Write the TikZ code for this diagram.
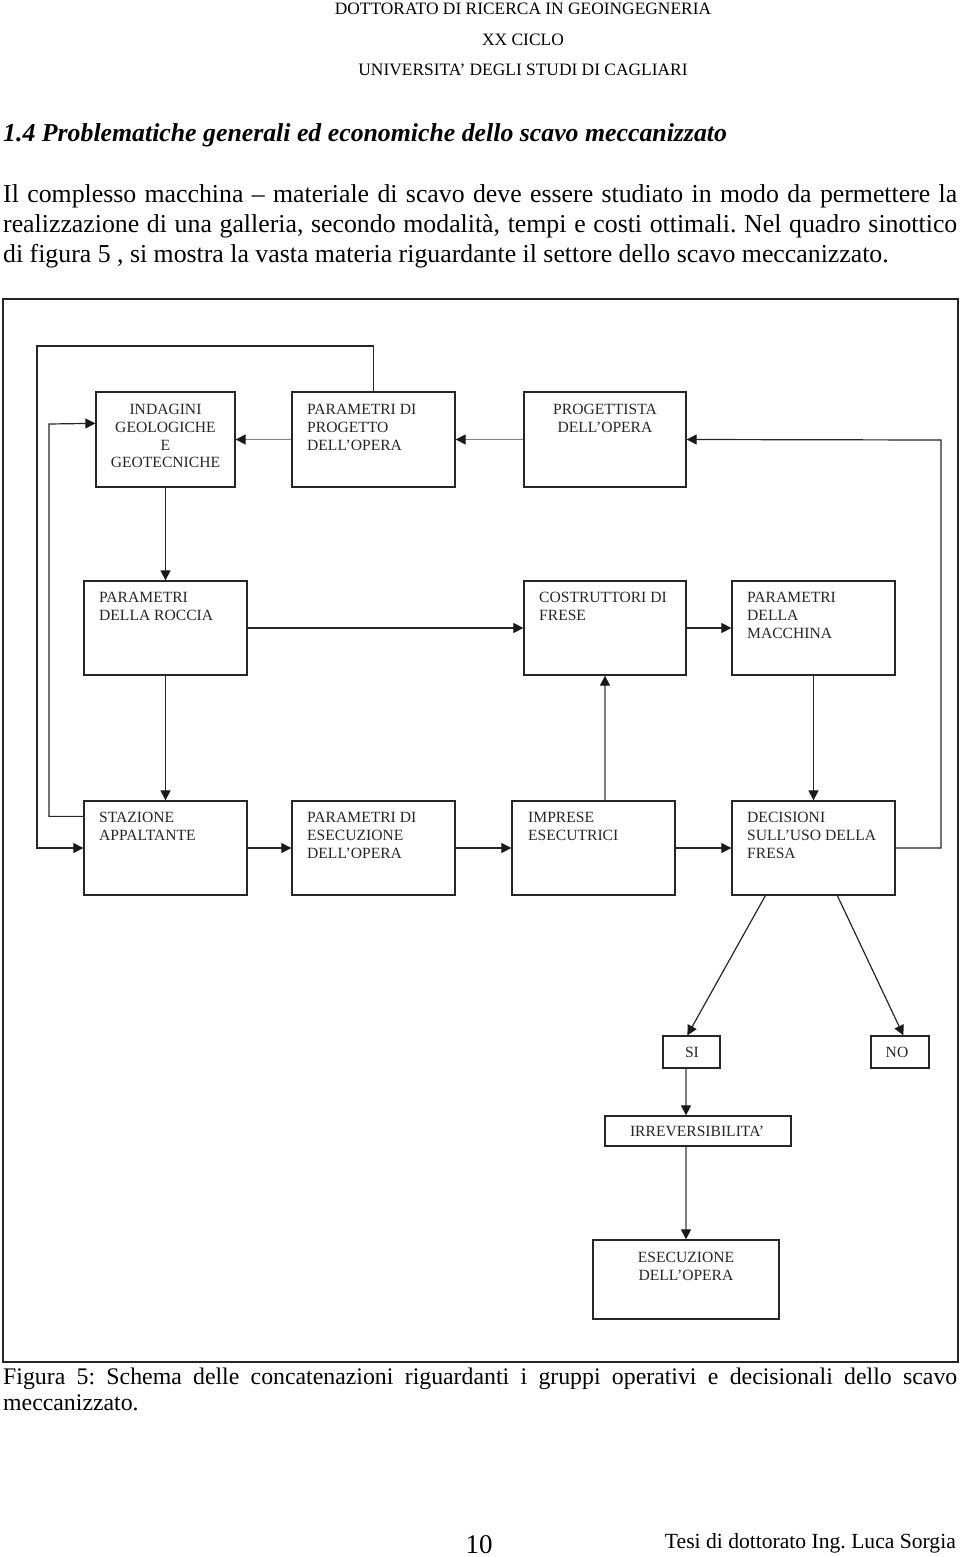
\documentclass[tikz,border=0pt]{standalone}
\usepackage{fontspec}
\setmainfont{Liberation Serif}
\usetikzlibrary{arrows.meta,calc}
\tikzset{
  box/.style={draw=black!85,line width=1.3pt,inner sep=0pt},
  lbl/.style={inner sep=0pt,align=left,font=\fontsize{15.6}{17.8}\selectfont,text=black!85},
  clbl/.style={lbl,align=center},
  conn/.style={draw=black!85,line width=1.2pt,-{Triangle[length=10pt,width=10pt,color=black!90]}},
  gconn/.style={conn,draw=black!50},
  body/.style={inner sep=0pt,font=\fontsize{25.8}{30}\selectfont},
  hdr/.style={inner sep=0pt,font=\fontsize{17.4}{20}\selectfont},
}
\newcommand\mybox[5]{\node[box,minimum width={#4-#2},minimum height={#5-#3}] (#1) at ({(#2+#4)/2},{(#3+#5)/2}) {};}
\begin{document}
\frenchspacing
\begin{tikzpicture}[x=1pt,y=-1pt]
\useasboundingbox (0,0) rectangle (960,1557);
% header
\node[hdr,anchor=base] (h1) at (523,15) {DOTTORATO DI RICERCA IN GEOINGEGNERIA};
\node[hdr,anchor=base] (h2) at (523,46) {XX CICLO};
\node[hdr,anchor=base] (h3) at (523,76) {UNIVERSITA’ DEGLI STUDI DI CAGLIARI};
\node[body,anchor=base west,font=\fontsize{25.8}{30}\selectfont\bfseries\itshape] (title) at (3,142) {1.4 Problematiche generali ed economiche dello scavo meccanizzato};
\node[body,anchor=base west] (p1) at (3,202) {\makebox[954pt][s]{Il complesso macchina – materiale di scavo deve essere studiato in modo da permettere la}};
\node[body,anchor=base west] (p2) at (3,232.5) {\makebox[954pt][s]{realizzazione di una galleria, secondo modalità, tempi e costi ottimali. Nel quadro sinottico}};
\node[body,anchor=base west] (p3) at (3,262) {di figura 5 , si mostra la vasta materia riguardante il settore dello scavo meccanizzato.};
% frame
\node[draw=black!85,line width=1.4pt,inner sep=0pt,minimum width=955,minimum height=1063] (frame) at (480.5,830.5) {};
% boxes
\mybox{ind}{96}{392}{235}{487}
\mybox{pp}{292}{392}{455}{487}
\mybox{prog}{524}{392}{686}{487}
\mybox{roc}{84}{581}{247}{675}
\mybox{cos}{524}{581}{686}{675}
\mybox{mac}{732}{581}{895}{675}
\mybox{sta}{84}{801}{247}{895}
\mybox{pe}{292}{801}{455}{895}
\mybox{imp}{512}{801}{675}{895}
\mybox{dec}{732}{801}{895}{895}
\mybox{si}{663}{1036}{720}{1068}
\mybox{no}{871}{1036}{929}{1068}
\mybox{irr}{605}{1116}{791}{1146}
\mybox{esec}{593}{1240}{779}{1319}
% labels
\node[clbl,anchor=north] (tind) at (165.5,404) {INDAGINI\\GEOLOGICHE\\E\\GEOTECNICHE};
\node[lbl,anchor=north west] (tpp) at (307,404) {PARAMETRI DI\\PROGETTO\\DELL’OPERA};
\node[clbl,anchor=north] (tprog) at (605,404) {PROGETTISTA\\DELL’OPERA};
\node[lbl,anchor=north west] (troc) at (99,592) {PARAMETRI\\DELLA ROCCIA};
\node[lbl,anchor=north west] (tcos) at (539,592) {COSTRUTTORI DI\\FRESE};
\node[lbl,anchor=north west] (tmac) at (747,592) {PARAMETRI\\DELLA\\MACCHINA};
\node[lbl,anchor=north west] (tsta) at (99,812) {STAZIONE\\APPALTANTE};
\node[lbl,anchor=north west] (tpe) at (307,812) {PARAMETRI DI\\ESECUZIONE\\DELL’OPERA};
\node[lbl,anchor=north west] (timp) at (528,812) {IMPRESE\\ESECUTRICI};
\node[lbl,anchor=north west] (tdec) at (747,812) {DECISIONI\\SULL’USO DELLA\\FRESA};
\node[clbl] (tsi) at (692,1052) {SI};
\node[clbl] (tno) at (897,1052) {NO};
\node[clbl] (tirr) at (697,1131) {IRREVERSIBILITA’};
\node[clbl,anchor=north] (tesec) at (686,1252) {ESECUZIONE\\DELL’OPERA};
% connectors
\coordinate (c1) at (37,346);
\coordinate (c2) at (49,424);
\coordinate (c3) at (941,440);
\draw[gconn] (pp.west) -- (ind.east);
\draw[gconn] (prog.west) -- (pp.east);
\draw[conn] (dec.east) -| (c3) -- (prog.east);
\draw[conn] (pp.north) |- (c1) -- (c1 |- sta.west) -- (sta.west);
\draw[conn] ($(sta.north west)+(0,16)$) -| (c2) -- ($(ind.north west)+(0,32)$);
\draw[conn] (ind.south) -- (roc.north);
\draw[conn] (roc.east) -- (cos.west);
\draw[conn] (cos.east) -- (mac.west);
\draw[conn] (roc.south) -- (sta.north);
\draw[conn] (sta.east) -- (pe.west);
\draw[conn] (pe.east) -- (imp.west);
\draw[gconn] (cos.south |- imp.north) -- (cos.south);
\draw[conn] (imp.east) -- (dec.west);
\draw[conn] (mac.south) -- (dec.north);
\draw[conn] ($(dec.south west)+(34,0)$) -- ($(si.north west)+(25,0)$);
\draw[conn] ($(dec.south west)+(106,0)$) -- ($(no.north west)+(33,0)$);
\draw[gconn] (esec.north |- si.south) -- (esec.north |- irr.north);
\draw[gconn] (esec.north |- irr.south) -- (esec.north);
% caption and footer
\node[body,anchor=base west,font=\fontsize{23.8}{26}\selectfont] (cap1) at (3,1384) {\makebox[954pt][s]{Figura 5: Schema delle concatenazioni riguardanti i gruppi operativi e decisionali dello scavo}};
\node[body,anchor=base west,font=\fontsize{23.8}{26}\selectfont] (cap2) at (3,1410) {meccanizzato.};
\node[body,anchor=base,font=\fontsize{27}{30}\selectfont] (pg) at (479,1553) {10};
\node[body,anchor=base east,font=\fontsize{21.6}{24}\selectfont] (auth) at (956,1548) {Tesi di dottorato Ing. Luca Sorgia};
\end{tikzpicture}
\end{document}
